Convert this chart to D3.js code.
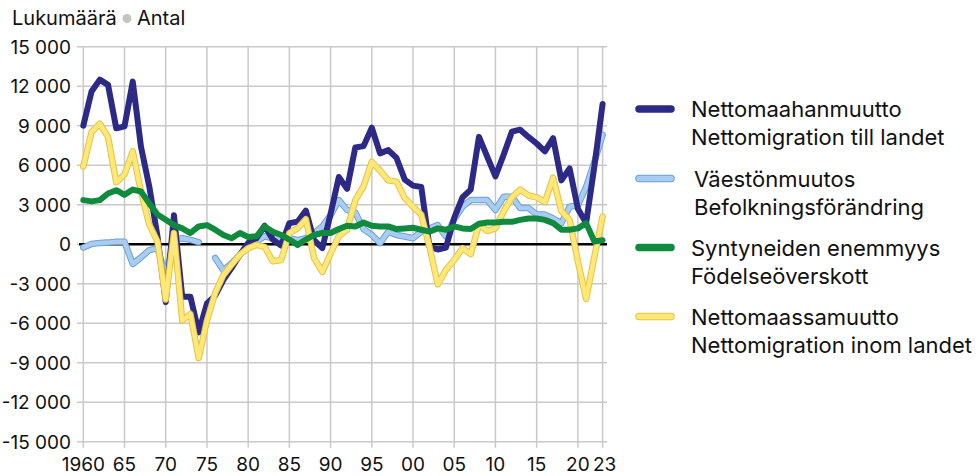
<!DOCTYPE html>
<html>
<head>
<meta charset="utf-8">
<script src="https://cdn.jsdelivr.net/npm/d3@7"></script>
<style>
  body { margin: 0; background: #fff; }
  svg text { font-family: Inter, "Noto Sans", sans-serif; fill: #111; }
</style>
</head>
<body>
<div id="app"></div>
<script>
const width = 979
const height = 476

const years = d3.range(1960, 2024)

// Nettomaahanmuutto / Nettomigration till landet
const netImmigration = [
  9000, 11600, 12500, 12100, 8800, 8950, 12350, 7400, 4400, 600,
  -4400, 2200, -4000, -4000, -6700, -4500, -3900, -2700, -1800, -800,
  100, 450, 1400, 350, -100, 1600, 1700, 2550, 300, -300,
  2300, 5100, 4200, 7350, 7450, 8850, 6900, 7150, 6550, 4900,
  4450, 4350, -200, -400, -250, 2000, 3550, 4150, 8150, 6650,
  5150, 6800, 8550, 8700, 8150, 7650, 7050, 8050, 4850, 5750,
  2700, 1600, 5900, 10650
]
// Väestönmuutos / Befolkningsförändring (1975 missing)
const popChange = [
  -250, 20, 100, 120, 180, 180, -1500, -1000, -450, -300,
  -2400, 330, 450, 330, 150, null, -1050, -2000, -1450, -800,
  -200, 200, 600, 450, 450, 450, 300, 450, 850, 1350,
  2200, 3350, 2600, 2400, 1150, 700, 80, 950, 700, 580,
  450, 950, 1200, 1450, 580, 1900, 2850, 3350, 3350, 3350,
  2600, 3600, 3600, 2750, 2750, 2250, 2250, 1950, 1600, 2850,
  2950, 4350, 6250, 8300
]
// Syntyneiden enemmyys / Födelseöverskott
const naturalIncrease = [
  3350, 3250, 3350, 3850, 4100, 3750, 4150, 4000, 3100, 2250,
  1850, 1450, 1200, 850, 1350, 1450, 1100, 700, 450, 850,
  550, 600, 1350, 950, 700, 350, -50, 350, 700, 850,
  850, 1150, 1400, 1350, 1650, 1400, 1350, 1350, 1150, 1200,
  1250, 1100, 950, 1200, 1100, 1350, 1200, 1150, 1550, 1650,
  1650, 1700, 1700, 1850, 1950, 1950, 1850, 1600, 1100, 1100,
  1200, 1600, 200, 300
]
// Nettomaassamuutto / Nettomigration inom landet
const netInternal = [
  5900, 8500, 9150, 8150, 4700, 5300, 7050, 4000, 1500, 200,
  -4200, 850, -5800, -5300, -8650, -5800, -3700, -2350, -1550, -800,
  -300, -50, -200, -1300, -1200, 850, 1200, 1900, -1050, -2100,
  -700, 600, 1100, 3350, 4400, 6250, 5600, 4850, 4750, 3500,
  2850, 2250, -200, -3050, -1950, -1200, -300, -750, 1500, 1000,
  1200, 2500, 3550, 4150, 3700, 3550, 3200, 5050, 2500, 1850,
  -1300, -4150, -950, 2100
]

const yTicks = [15000, 12000, 9000, 6000, 3000, 0, -3000, -6000, -9000, -12000, -15000]
const xTicks = [1960, 1965, 1970, 1975, 1980, 1985, 1990, 1995, 2000, 2005, 2010, 2015, 2020, 2023]
const xTickLabels = ['1960', '65', '70', '75', '80', '85', '90', '95', '00', '05', '10', '15', '20', '23']

const series = [
  { name: ['Väestönmuutos', 'Befolkningsförändring'], values: popChange, color: '#a9cdf0', outline: '#6d9fd6' },
  { name: ['Nettomaahanmuutto', 'Nettomigration till landet'], values: netImmigration, color: '#2d2a87' },
  { name: ['Nettomaassamuutto', 'Nettomigration inom landet'], values: netInternal, color: '#ffe877', outline: '#e2c446' },
  { name: ['Syntyneiden enemmyys', 'Födelseöverskott'], values: naturalIncrease, color: '#108a3c' }
]
const legendOrder = [1, 0, 3, 2]

const x = d3.scaleLinear().domain([1960, 2023]).range([83.3, 602.6])
const y = d3.scaleLinear().domain([-15000, 15000]).range([441.7, 46.7])

const svg = d3.select('#app').append('svg')
  .attr('width', width)
  .attr('height', height)

// grid
svg.append('g').selectAll('line')
  .data(yTicks)
  .join('line')
  .attr('x1', 77).attr('x2', 607)
  .attr('y1', d => y(d)).attr('y2', d => y(d))
  .attr('stroke', '#c9c9c9').attr('stroke-width', 1.5)

svg.append('g').selectAll('line')
  .data(xTicks)
  .join('line')
  .attr('x1', d => x(d)).attr('x2', d => x(d))
  .attr('y1', y(15000)).attr('y2', y(-15000) + 6)
  .attr('stroke', '#c9c9c9').attr('stroke-width', 1.5)

const fmt = d => d3.format(',')(d).replace(/,/g, ' ').replace('−', '-')

svg.append('g').selectAll('text')
  .data(yTicks)
  .join('text')
  .attr('x', 71)
  .attr('y', d => y(d))
  .attr('dy', '0.36em')
  .attr('text-anchor', 'end')
  .attr('font-size', 19)
  .text(fmt)

svg.append('g').selectAll('text')
  .data(xTicks)
  .join('text')
  .attr('x', (d, i) => x(d) + (d === 2023 ? 2 : 0))
  .attr('y', 471)
  .attr('text-anchor', 'middle')
  .attr('font-size', 19)
  .text((d, i) => xTickLabels[i])

// zero line
svg.append('line')
  .attr('x1', 79).attr('x2', 607)
  .attr('y1', y(0)).attr('y2', y(0))
  .attr('stroke', '#000').attr('stroke-width', 2.5)

const line = d3.line()
  .defined(d => d[1] !== null)
  .x(d => x(d[0]))
  .y(d => y(d[1]))

const lines = svg.append('g')
series.forEach(s => {
  const pts = years.map((yr, i) => [yr, s.values[i]])
  if (s.outline) {
    lines.append('path')
      .attr('d', line(pts))
      .attr('fill', 'none')
      .attr('stroke', s.outline)
      .attr('stroke-width', 6.5)
      .attr('stroke-linejoin', 'round')
      .attr('stroke-linecap', 'round')
    lines.append('path')
      .attr('d', line(pts))
      .attr('fill', 'none')
      .attr('stroke', s.color)
      .attr('stroke-width', 4.5)
      .attr('stroke-linejoin', 'round')
      .attr('stroke-linecap', 'round')
  } else {
    lines.append('path')
      .attr('d', line(pts))
      .attr('fill', 'none')
      .attr('stroke', s.color)
      .attr('stroke-width', 6)
      .attr('stroke-linejoin', 'round')
      .attr('stroke-linecap', 'round')
  }
})

// title
svg.append('text').attr('x', 12).attr('y', 25).attr('font-size', 20).text('Lukumäärä')
svg.append('circle').attr('cx', 127).attr('cy', 18.5).attr('r', 4.5).attr('fill', '#c4c4c4')
svg.append('text').attr('x', 137).attr('y', 25).attr('font-size', 20).text('Antal')

// legend
const legendY = [109, 178.5, 247.5, 316.5]
const legend = svg.append('g')
legendOrder.forEach((si, k) => {
  const s = series[si]
  const g = legend.append('g').attr('transform', `translate(0,${legendY[k]})`)
  if (s.outline) {
    g.append('line').attr('x1', 639).attr('x2', 671).attr('stroke', s.outline)
      .attr('stroke-width', 7.5).attr('stroke-linecap', 'round')
    g.append('line').attr('x1', 639).attr('x2', 671).attr('stroke', s.color)
      .attr('stroke-width', 5.5).attr('stroke-linecap', 'round')
  } else {
    g.append('line').attr('x1', 639).attr('x2', 671).attr('stroke', s.color)
      .attr('stroke-width', 7.5).attr('stroke-linecap', 'round')
  }
  const tx = si === 0 ? 694 : 691
  g.append('text').attr('x', tx).attr('y', 8).attr('font-size', 22).text(s.name[0])
  g.append('text').attr('x', tx).attr('y', 36).attr('font-size', 22).text(s.name[1])
})
</script>
</body>
</html>
